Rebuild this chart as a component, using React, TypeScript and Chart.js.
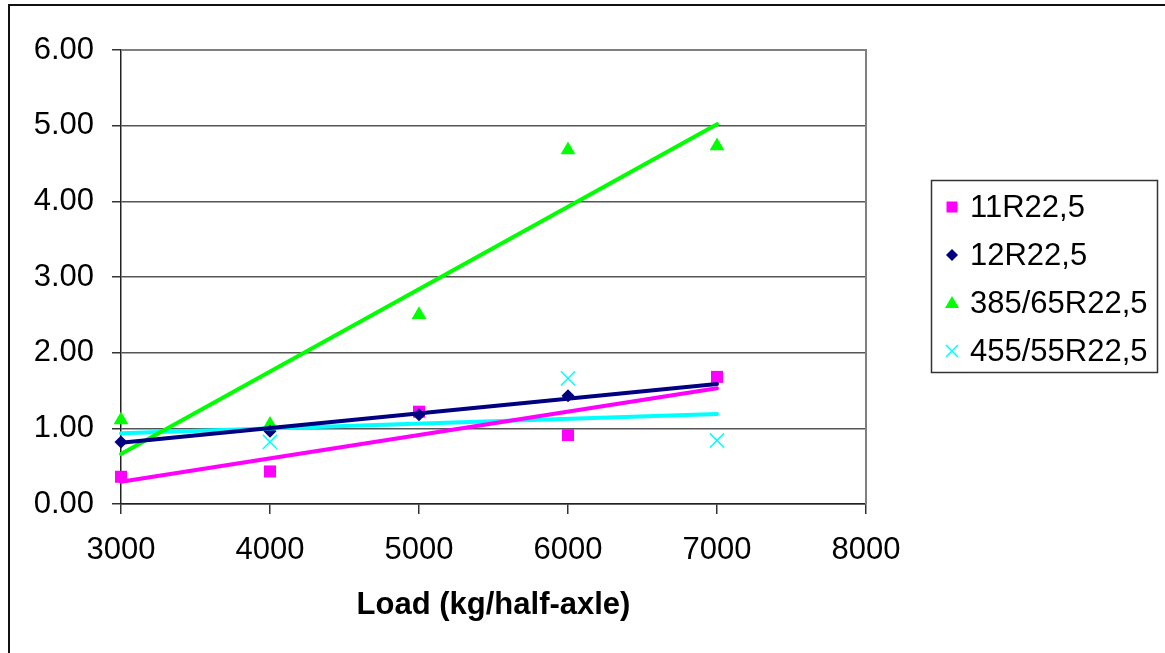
import React, { useEffect, useRef } from "react";
import { Chart, registerables } from "chart.js";

Chart.register(...registerables);

const loads = [3000, 4000, 5000, 6000, 7000];
const seriesNames = ["11R22,5", "12R22,5", "385/65R22,5", "455/55R22,5"];
const s11R = [0.36, 0.43, 1.22, 0.91, 1.68];
const s12R = [0.82, 0.96, 1.18, 1.43, null];
const s385 = [1.11, 1.05, 2.5, 4.68, 4.73];
const s455 = [null, 0.82, null, 1.66, 0.84];
const trendX = [3000, 7000];
const trend11R = [0.295, 1.53];
const trend12R = [0.81, 1.585];
const trend385 = [0.66, 5.02];
const trend455 = [0.935, 1.19];
const xTicks = [3000, 4000, 5000, 6000, 7000, 8000];
const colors = ["#FF00FF", "#000080", "#00FF00", "#00FFFF"];
const styles = ["rect", "rectRot", "triangle", "crossRot"];

const FONT = "Arial, 'Liberation Sans', sans-serif";

function pts(xs: number[], ys: (number | null)[]) {
  return xs.map((x, i) => ({ x, y: ys[i] }));
}

const framePlugin = {
  id: "frame",
  beforeDraw(chart: any) {
    const ctx = chart.ctx;
    ctx.save();
    ctx.fillStyle = "#fff";
    ctx.fillRect(0, 0, chart.width, chart.height);
    ctx.strokeStyle = "#111";
    ctx.lineWidth = 2;
    ctx.beginPath();
    ctx.moveTo(9, chart.height + 2);
    ctx.lineTo(9, 5);
    ctx.lineTo(chart.width + 2, 5);
    ctx.stroke();
    ctx.restore();
  },
  beforeDatasetsDraw(chart: any) {
    const { ctx, chartArea } = chart;
    ctx.save();
    ctx.strokeStyle = "#808080";
    ctx.lineWidth = 2;
    ctx.beginPath();
    ctx.moveTo(chartArea.left, chartArea.top);
    ctx.lineTo(chartArea.right, chartArea.top);
    ctx.lineTo(chartArea.right, chartArea.bottom);
    ctx.stroke();
    ctx.restore();
  },
  afterDraw(chart: any) {
    const ctx = chart.ctx;
    ctx.save();
    ctx.strokeStyle = "#333";
    ctx.lineWidth = 1.5;
    ctx.strokeRect(931.5, 180.5, 226, 192);
    const rows = [207, 255, 303, 351];
    seriesNames.forEach((name, i) => {
      const y = rows[i];
      const x = 952;
      ctx.fillStyle = colors[i];
      ctx.strokeStyle = colors[i];
      ctx.beginPath();
      if (styles[i] === "rect") {
        ctx.fillRect(x - 5.5, y - 5.5, 11, 11);
      } else if (styles[i] === "rectRot") {
        ctx.moveTo(x, y - 6);
        ctx.lineTo(x + 6, y);
        ctx.lineTo(x, y + 6);
        ctx.lineTo(x - 6, y);
        ctx.closePath();
        ctx.fill();
      } else if (styles[i] === "triangle") {
        ctx.moveTo(x, y - 7);
        ctx.lineTo(x + 7, y + 5);
        ctx.lineTo(x - 7, y + 5);
        ctx.closePath();
        ctx.fill();
      } else {
        ctx.lineWidth = 1.5;
        ctx.moveTo(x - 6, y - 6);
        ctx.lineTo(x + 6, y + 6);
        ctx.moveTo(x + 6, y - 6);
        ctx.lineTo(x - 6, y + 6);
        ctx.stroke();
      }
      ctx.fillStyle = "#000";
      ctx.font = `31px ${FONT}`;
      ctx.textAlign = "left";
      ctx.textBaseline = "middle";
      ctx.fillText(name, 970, y + 1);
    });
    ctx.restore();
  },
};

export default function App() {
  const ref = useRef<HTMLCanvasElement | null>(null);
  useEffect(() => {
    if (!ref.current) return;
    Chart.defaults.font.family = FONT;
    Chart.defaults.color = "#000";
    const serieData = [s11R, s12R, s385, s455];
    const trends = [trend11R, trend12R, trend385, trend455];
    const radii = [8.5, 6.5, 8.5, 10];
    const markerOrder = [3, 2, 4, 5];
    const datasets: any[] = [];
    trends.forEach((t, i) => {
      datasets.push({
        type: "line",
        label: seriesNames[i] + " trend",
        data: pts(trendX, t),
        borderColor: colors[i],
        borderWidth: 4,
        borderCapStyle: "round",
        pointRadius: 0,
        fill: false,
        clip: false,
        order: 1,
      });
    });
    serieData.forEach((d, i) => {
      datasets.push({
        type: "scatter",
        label: seriesNames[i],
        data: pts(loads, d),
        pointStyle: styles[i],
        pointRadius: radii[i],
        pointBackgroundColor: colors[i],
        pointBorderColor: colors[i],
        pointBorderWidth: styles[i] === "crossRot" ? 1.5 : 0,
        showLine: false,
        clip: false,
        order: markerOrder[i],
      });
    });
    const chart = new Chart(ref.current, {
      type: "scatter",
      data: { datasets },
      options: {
        animation: false,
        responsive: false,
        devicePixelRatio: 1,
        layout: { padding: { left: 0, top: 50, right: 299, bottom: 0 } },
        plugins: { legend: { display: false }, tooltip: { enabled: false } },
        scales: {
          x: {
            type: "linear",
            min: 3000,
            max: 8000,
            afterBuildTicks: (s: any) => {
              s.ticks = xTicks.map((v) => ({ value: v }));
            },
            afterFit: (s: any) => {
              s.height = 149;
            },
            ticks: {
              font: { size: 31 },
              padding: 18,
              maxRotation: 0,
              callback: (v: any) => String(v),
            },
            grid: { drawOnChartArea: false, tickLength: 10, tickColor: "#333", lineWidth: 1.5 },
            border: { color: "#222", width: 1.5 },
            title: {
              display: true,
              text: "Load (kg/half-axle)",
              font: { size: 31, weight: "bold" },
              padding: { top: 0, bottom: 29 },
            },
          },
          y: {
            min: 0,
            max: 6,
            afterFit: (s: any) => {
              s.width = 121;
            },
            ticks: {
              stepSize: 1,
              font: { size: 31 },
              padding: 18,
              callback: (v: any) => Number(v).toFixed(2),
            },
            grid: { color: "#555", lineWidth: 1.5, tickLength: 9, tickColor: "#333" },
            border: { color: "#222", width: 1.5 },
          },
        },
      },
      plugins: [framePlugin],
    } as any);
    return () => chart.destroy();
  }, []);
  return (
    <canvas
      ref={ref}
      width={1165}
      height={653}
      style={{ position: "absolute", left: 0, top: 0, width: 1165, height: 653 }}
    />
  );
}
